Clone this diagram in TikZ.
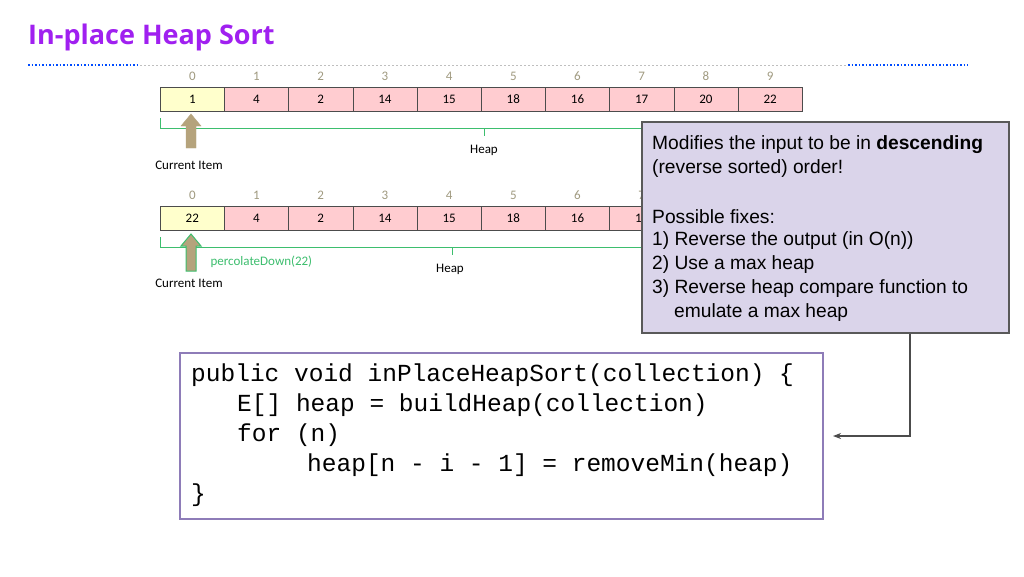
\documentclass[tikz,border=0pt]{standalone}
\usepackage{fontspec}
\setmainfont{Liberation Sans}
\newfontfamily\calfnt{Carlito}
\newfontfamily\ttfnt{Liberation Mono}
\newfontfamily\ttlfnt{Open Sans}
\usetikzlibrary{arrows.meta}
\definecolor{cellpink}{HTML}{FFCCD0}
\definecolor{cellyel}{HTML}{FFFFCC}
\definecolor{heapgreen}{HTML}{3DBE6E}
\definecolor{tanc}{HTML}{B5A37C}
\definecolor{idxc}{HTML}{A09A80}
\definecolor{lav}{HTML}{DAD4EA}
\definecolor{titlec}{HTML}{A020F0}
\definecolor{codeb}{HTML}{8E7CB8}
\tikzset{
 cell/.style={draw=black!70,minimum width=64.2pt,minimum height=24pt,inner sep=0,font=\calfnt\fontsize{13}{13}\selectfont,anchor=north west},
 idx/.style={font=\calfnt\fontsize{13}{13}\selectfont,text=idxc},
 lbl/.style={font=\calfnt\fontsize{13}{13}\selectfont},
 brk/.style={heapgreen,line width=1pt},
 codeln/.style={font=\ttfnt\fontsize{24.5}{24.5}\selectfont,anchor=west,inner sep=0},
 ctext/.style={font=\fontsize{19.2}{19.2}\selectfont,anchor=west,inner sep=0}
}
\begin{document}
\begin{tikzpicture}[x=1pt,y=-1pt]
\useasboundingbox[fill=white] (0,0) rectangle (1024,576);
\node[anchor=west,text=titlec,font=\ttlfnt\bfseries\fontsize{27}{27}\selectfont,inner sep=0] (title) at (28,37) {In-place Heap Sort};
\draw[dotted,line width=1.5pt,blue!70!cyan] (28,65) -- (140,65);
\draw[dotted,line width=1.5pt,blue!70!cyan] (848,65) -- (968,65);
\draw[dash pattern=on 2pt off 2pt,gray!50] (140,65) -- (848,65);
% arrays
\foreach \r/\y/\first in {a/87/1,b/206/22}{
 \foreach \v [count=\i from 0] in {\first,4,2,14,15,18,16,17,20,22}{
  \pgfmathsetmacro{\xx}{160+64.2*\i}
  \ifnum\i=0 \def\fc{cellyel}\else\def\fc{cellpink}\fi
  \node[cell,fill=\fc] (\r\i) at (\xx,\y) {\v};
  \node[idx] (\r i\i) at ([yshift=11pt]\r\i.north) {\i};
 }
}
% brackets
\draw[brk] (160,118) |- (800,128);
\draw[brk] (484,128) -- (484,136);
\node[lbl] (h1) at (484,150) {Heap};
\draw[brk] (160,237) |- (760,247);
\draw[brk] (452,247) -- (452,255);
\node[lbl] (h2) at (450,269) {Heap};
% arrows
\draw[fill=tanc,draw=tanc] (186,148) -- (186,126) -- (181,126) -- (191,114) -- (201,126) -- (196,126) -- (196,148) -- cycle;
\node[lbl] (cur1) at (189,165) {Current Item};
\draw[fill=tanc,draw=heapgreen,line width=1pt] (186,271) -- (186,246) -- (181,246) -- (191,234) -- (201,246) -- (196,246) -- (196,271) -- cycle;
\node[lbl,text=heapgreen,anchor=west] (perc) at (207,262) {percolateDown(22)};
\node[lbl] (cur2) at (189,283) {Current Item};
% callout
\node[draw=gray!70!black,line width=2pt,fill=lav,minimum width=367pt,minimum height=211pt,anchor=north west] (call) at (641,121) {};
\node[ctext] (t1) at (652,145) {Modifies the input to be in \textbf{descending}};
\node[ctext] (t2) at (652,169) {(reverse sorted) order!};
\node[ctext] (t3) at (652,217) {Possible fixes:};
\node[ctext] (t4) at (652,241) {1) Reverse the output (in O(n))};
\node[ctext] (t5) at (652,265) {2) Use a max heap};
\node[ctext] (t6) at (652,289) {3) Reverse heap compare function to};
\node[ctext] (t7) at (674,313) {emulate a max heap};
% code
\node[draw=codeb,line width=2pt,minimum width=643pt,minimum height=166pt,anchor=north west] (code) at (179,352) {};
\node[codeln] (l1) at (191,375) {public void inPlaceHeapSort(collection) \{};
\node[codeln] (l2) at (237,405) {E[] heap = buildHeap(collection)};
\node[codeln] (l3) at (237,435) {for (n)};
\node[codeln] (l4) at (307,465) {heap[n - i - 1] = removeMin(heap)};
\node[codeln] (l5) at (191,495) {\}};
\coordinate (bend) at (910,436);
\coordinate (tip) at (833,436);
\draw[gray!60!black,line width=2pt,-{Stealth[length=8pt]}] (call.south -| bend) -- (bend) -- (tip);
\end{tikzpicture}
\end{document}
